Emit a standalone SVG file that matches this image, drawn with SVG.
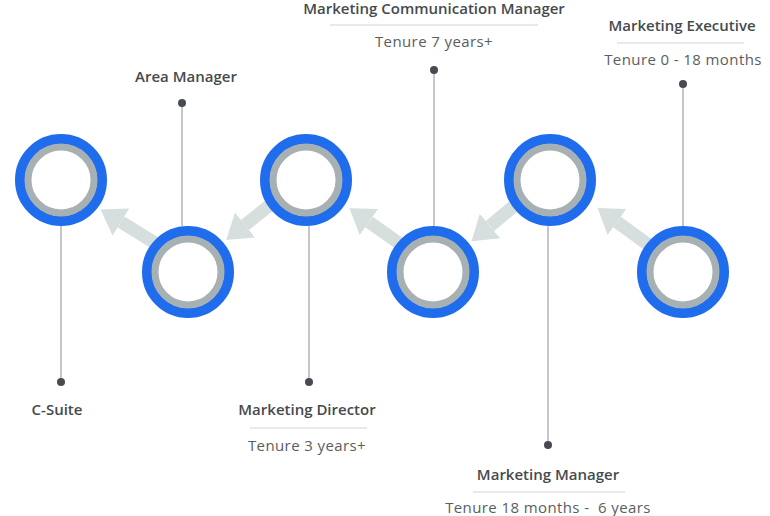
<svg xmlns="http://www.w3.org/2000/svg" width="770" height="516" viewBox="0 0 770 516">
<style>
.ring{fill:#fff;stroke:#1f6ced;stroke-width:10}
.inner{fill:none;stroke:#a7b1b3;stroke-width:7}
.lead{stroke:#b5b5b5;stroke-width:1.5}
.dot{fill:#454b50}
.arr{stroke:#d6dfdd;stroke-width:13}
.sep{stroke:#d4d4d4;stroke-width:1.2}
.h{font-family:"Open Sans","Liberation Sans",sans-serif;font-weight:600;font-size:15px;fill:#454a4e;text-anchor:middle}
.t{font-family:"Open Sans","Liberation Sans",sans-serif;font-size:15px;letter-spacing:0.4px;fill:#5a5e62;text-anchor:middle}
</style>
<defs>
<marker id="ah" markerUnits="userSpaceOnUse" markerWidth="24" markerHeight="32" refX="0" refY="16" orient="auto">
<path d="M0,0 L24,16 L0,32 z" fill="#d6dfdd"/>
</marker>
</defs>
<g id="connectors">
<line class="lead" x1="61" y1="226" x2="61" y2="382"/><circle class="dot" cx="61" cy="382" r="4"/>
<line class="lead" x1="182" y1="103" x2="182" y2="226"/><circle class="dot" cx="182" cy="103" r="4"/>
<line class="lead" x1="309" y1="226" x2="309" y2="382"/><circle class="dot" cx="309" cy="382" r="4"/>
<line class="lead" x1="434" y1="70" x2="434" y2="226"/><circle class="dot" cx="434" cy="70" r="4"/>
<line class="lead" x1="548" y1="226" x2="548" y2="445"/><circle class="dot" cx="548" cy="445" r="4"/>
<line class="lead" x1="683" y1="84" x2="683" y2="226"/><circle class="dot" cx="683" cy="84" r="4"/>
<line class="arr" x1="160" y1="246" x2="121" y2="222" marker-end="url(#ah)"/>
<line class="arr" x1="275" y1="201" x2="245" y2="225" marker-end="url(#ah)"/>
<line class="arr" x1="403" y1="246" x2="369" y2="222" marker-end="url(#ah)"/>
<line class="arr" x1="520" y1="201" x2="490" y2="226" marker-end="url(#ah)"/>
<line class="arr" x1="650" y1="246" x2="617" y2="222" marker-end="url(#ah)"/>
</g>
<g id="c-suite"><circle class="ring" cx="61" cy="180" r="41"/><circle class="inner" cx="61" cy="180" r="33"/>
<text class="h" x="57" y="415">C-Suite</text></g>
<g id="area-manager"><circle class="ring" cx="188" cy="272" r="41"/><circle class="inner" cx="188" cy="272" r="33"/>
<text class="h" x="186" y="82">Area Manager</text></g>
<g id="marketing-director"><circle class="ring" cx="306" cy="180" r="41"/><circle class="inner" cx="306" cy="180" r="33"/>
<text class="h" x="307" y="415">Marketing Director</text><line class="sep" x1="250" y1="428" x2="367" y2="428"/>
<text class="t" x="307" y="451">Tenure 3 years+</text></g>
<g id="marketing-communication-manager"><circle class="ring" cx="433" cy="272" r="41"/><circle class="inner" cx="433" cy="272" r="33"/>
<text class="h" x="434" y="14">Marketing Communication Manager</text><line class="sep" x1="330" y1="25" x2="538" y2="25"/>
<text class="t" x="434" y="47">Tenure 7 years+</text></g>
<g id="marketing-manager"><circle class="ring" cx="550" cy="180" r="41"/><circle class="inner" cx="550" cy="180" r="33"/>
<text class="h" x="548" y="480">Marketing Manager</text><line class="sep" x1="473" y1="492" x2="625" y2="492"/>
<text class="t" x="548" y="513" xml:space="preserve">Tenure 18 months -  6 years</text></g>
<g id="marketing-executive"><circle class="ring" cx="683" cy="272" r="41"/><circle class="inner" cx="683" cy="272" r="33"/>
<text class="h" x="682" y="31">Marketing Executive</text><line class="sep" x1="617" y1="43" x2="744" y2="43"/>
<text class="t" x="683" y="65">Tenure 0 - 18 months</text></g>
</svg>
